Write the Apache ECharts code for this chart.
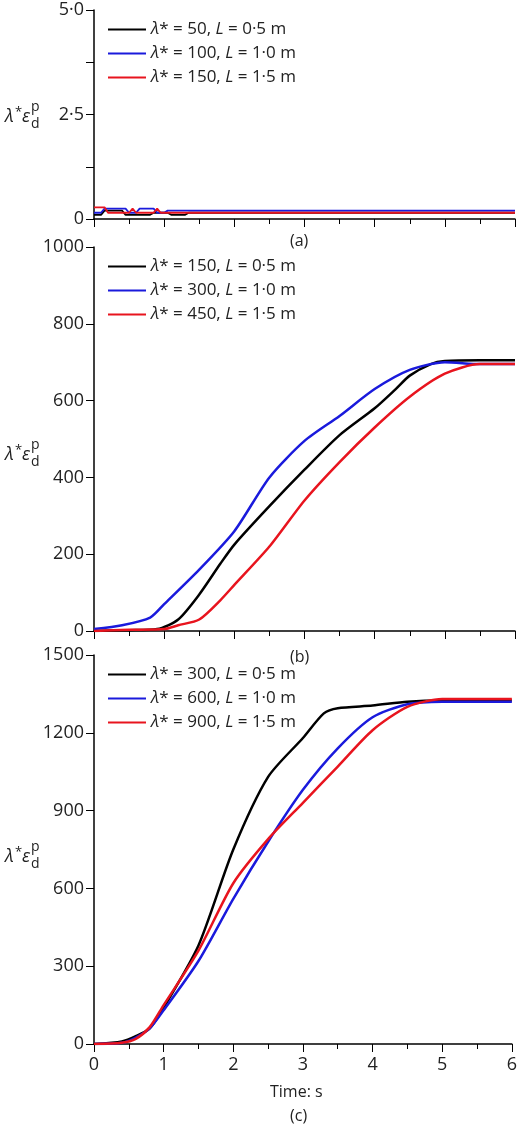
<!DOCTYPE html><html><head><meta charset="utf-8"><script src="https://cdn.jsdelivr.net/npm/echarts@6/dist/echarts.min.js"></script></head><body style="margin:0;background:#fff"><div id="c" style="width:520px;height:1131px"></div><script>
const colors=['#000000','#1a1adc','#e8141e'];
const legendA=[['50','0·5'],['100','1·0'],['150','1·5']];
const legendB=[['150','0·5'],['300','1·0'],['450','1·5']];
const legendC=[['300','0·5'],['600','1·0'],['900','1·5']];
// panel a
const aBlack=[[0,0.1],[0.1,0.1],[0.15,0.2],[0.4,0.2],[0.45,0.1],[0.8,0.1],[0.85,0.15],[1.05,0.15],[1.1,0.1],[1.3,0.1],[1.35,0.15],[6,0.15]];
const aBlue=[[0,0.15],[0.1,0.15],[0.15,0.25],[0.45,0.25],[0.5,0.15],[0.6,0.15],[0.65,0.25],[0.85,0.25],[0.9,0.15],[1.0,0.15],[1.05,0.2],[6,0.2]];
const aRed=[[0,0.28],[0.15,0.28],[0.2,0.15],[0.5,0.15],[0.55,0.25],[0.6,0.15],[0.85,0.15],[0.9,0.25],[0.95,0.15],[6,0.15]];
// panel b
const bBlack=[[0,0],[0.5,2],[0.9,5],[1.2,30],[1.5,95],[1.8,175],[2,225],[2.5,325],[3,420],[3.5,510],[4,580],[4.3,630],[4.5,665],[4.8,695],[5,703],[5.5,705],[6,705]];
const bBlue=[[0,5],[0.4,15],[0.8,35],[1,70],[1.5,160],[2,260],[2.5,400],[3,495],[3.5,560],[4,630],[4.5,680],[5,700],[5.5,695],[6,695]];
const bRed=[[0,0],[0.5,3],[1,5],[1.2,15],[1.5,30],[1.8,80],[2,120],[2.5,220],[3,340],[3.5,440],[4,530],[4.5,610],[5,670],[5.5,695],[6,695]];
// panel c
const cBlack=[[0,0],[0.4,10],[0.6,30],[0.8,60],[1,140],[1.5,380],[2,750],[2.5,1030],[3,1180],[3.3,1275],[3.5,1295],[4,1305],[4.5,1320],[5,1325],[6,1325]];
const cBlue=[[0,0],[0.4,5],[0.6,25],[0.8,60],[1,130],[1.5,320],[2,560],[2.5,780],[3,980],[3.5,1140],[4,1260],[4.5,1310],[5,1320],[6,1320]];
const cRed=[[0,0],[0.4,5],[0.6,20],[0.8,65],[1,150],[1.5,360],[2,620],[2.5,790],[3,930],[3.5,1070],[4,1210],[4.5,1300],[5,1330],[6,1330]];
const font='"Open Sans", sans-serif';
const rich={i:{fontStyle:'italic',fontSize:17,fontFamily:font,color:'#222'},n:{fontSize:17,fontFamily:font,color:'#222'}};
function lab(l){return '{i|λ}{n|* = '+l[0]+', }{i|L}{n| = '+l[1]+' m}';}
const grids=[{top:10,bottom:1131-219},{top:247,bottom:1131-631},{top:655,bottom:1131-1044}].map(g=>({left:94,right:5,top:g.top,bottom:g.bottom}));
const xAxes=grids.map((g,i)=>({type:'value',gridIndex:i,min:0,max:6,interval:1,
 axisLine:{lineStyle:{color:'#000',width:1.5}},axisTick:{inside:false,length:8,lineStyle:{color:'#000'}},
 minorTick:{show:true,splitNumber:2,length:5,lineStyle:{color:'#000'}},splitLine:{show:false},
 axisLabel:{show:i===2,fontSize:18,fontFamily:font,color:'#222',margin:12}}));
const yCfg=[{max:5,interval:1.25,fmt:v=>v===0?'0':(v===2.5?'2·5':(v===5?'5·0':''))},{max:1000,interval:200,fmt:v=>v},{max:1500,interval:300,fmt:v=>v}];
const yAxes=yCfg.map((c,i)=>({type:'value',gridIndex:i,min:0,max:c.max,interval:c.interval,
 axisLine:{show:true,lineStyle:{color:'#000',width:1.5}},axisTick:{show:true,length:8,lineStyle:{color:'#000'}},splitLine:{show:false},
 axisLabel:{formatter:c.fmt,fontSize:18,fontFamily:font,color:'#222',margin:10}}));
const sets=[[aBlack,aBlue,aRed],[bBlack,bBlue,bRed],[cBlack,cBlue,cRed]];
const legs=[legendA,legendB,legendC];
const series=[];const legend=[];
sets.forEach((s,p)=>{const names=[];s.forEach((d,k)=>{const nm=lab(legs[p][k])+'\u200b'.repeat(p);names.push(nm);
 series.push({type:'line',name:nm,xAxisIndex:p,yAxisIndex:p,data:d,showSymbol:false,smooth:p>0?0.25:false,lineStyle:{color:colors[k],width:p===0?1.8:2.5},itemStyle:{color:colors[k]}});});
 legend.push({data:names,orient:'vertical',left:103,top:grids[p].top+6,itemWidth:38,itemHeight:2,itemGap:7,icon:'rect',textStyle:{rich:rich},formatter:n=>n,selectedMode:false});});
const st={fontFamily:font,fill:'#222'};
const ylab=(y)=>[
 {type:'text',left:5,top:y,style:Object.assign({text:'λ',fontSize:18,fontStyle:'italic'},st)},
 {type:'text',left:15,top:y-2,style:Object.assign({text:'*',fontSize:13},st)},
 {type:'text',left:22,top:y,style:Object.assign({text:'ε',fontSize:18,fontStyle:'italic'},st)},
 {type:'text',left:31,top:y-8,style:Object.assign({text:'p',fontSize:14},st)},
 {type:'text',left:31,top:y+9,style:Object.assign({text:'d',fontSize:14},st)}];
const chart=echarts.init(document.getElementById('c'),null,{renderer:'canvas'});
chart.setOption({animation:false,grid:grids,xAxis:xAxes,yAxis:yAxes,series:series,legend:legend,
 graphic:[...ylab(108),...ylab(446),...ylab(848),
 {type:'text',left:290,top:233,style:Object.assign({text:'(a)',fontSize:16},st)},
 {type:'text',left:290,top:649,style:Object.assign({text:'(b)',fontSize:16},st)},
 {type:'text',left:270,top:1084,style:Object.assign({text:'Time: s',fontSize:16},st)},
 {type:'text',left:290,top:1108,style:Object.assign({text:'(c)',fontSize:16},st)}]});
</script></body></html>
